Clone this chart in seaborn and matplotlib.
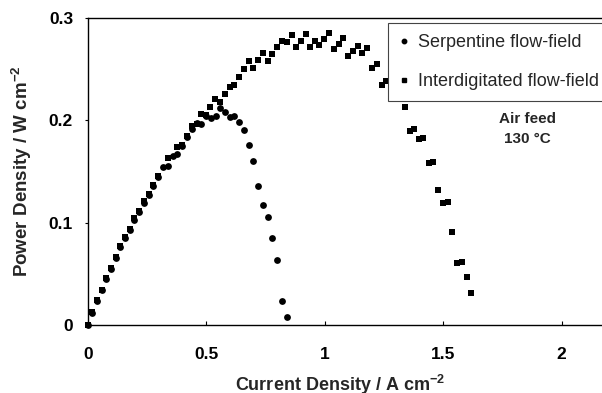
import numpy as np
import pandas as pd
import matplotlib
matplotlib.use("Agg")
import matplotlib.pyplot as plt
import seaborn as sns
from matplotlib.lines import Line2D

# ---- data ----
serp_x = [0.0, 0.017, 0.038, 0.059, 0.077, 0.097, 0.118, 0.138, 0.157, 0.177,
          0.197, 0.216, 0.238, 0.257, 0.277, 0.298, 0.316, 0.338, 0.359, 0.378,
          0.397, 0.418, 0.439, 0.46, 0.478, 0.499, 0.52, 0.54, 0.558, 0.579,
          0.60, 0.617, 0.64, 0.66, 0.68, 0.699, 0.72, 0.738, 0.76, 0.779,
          0.80, 0.821, 0.841]
serp_y = [0.0, 0.012, 0.0235, 0.034, 0.045, 0.055, 0.065, 0.076, 0.085, 0.093,
          0.103, 0.110, 0.1195, 0.127, 0.136, 0.145, 0.154, 0.1555, 0.165, 0.167,
          0.175, 0.184, 0.1915, 0.197, 0.196, 0.204, 0.2025, 0.204, 0.212, 0.208,
          0.203, 0.204, 0.198, 0.1905, 0.176, 0.1605, 0.136, 0.117, 0.106, 0.085,
          0.0635, 0.0237, 0.0075]

inter_x = [0.0, 0.017, 0.038, 0.059, 0.077, 0.097, 0.118, 0.138, 0.157, 0.177,
           0.197, 0.216, 0.238, 0.257, 0.277, 0.298, 0.34, 0.378, 0.397, 0.418,
           0.439, 0.46, 0.478, 0.499, 0.516, 0.537, 0.558, 0.579, 0.60, 0.619,
           0.64, 0.66, 0.68, 0.699, 0.72, 0.738, 0.76, 0.779, 0.80, 0.819,
           0.84, 0.861, 0.879, 0.899, 0.92, 0.938, 0.959, 0.977, 0.998, 1.018,
           1.039, 1.06, 1.078, 1.10, 1.118, 1.139, 1.159, 1.18, 1.198, 1.219,
           1.24, 1.259, 1.339, 1.36, 1.378, 1.399, 1.416, 1.441, 1.458, 1.479,
           1.50, 1.519, 1.538, 1.56, 1.578, 1.599, 1.619]
inter_y = [0.0, 0.0125, 0.024, 0.0345, 0.046, 0.056, 0.066, 0.0775, 0.086, 0.094,
           0.1045, 0.111, 0.121, 0.128, 0.137, 0.146, 0.163, 0.174, 0.176, 0.185,
           0.194, 0.1965, 0.206, 0.205, 0.213, 0.221, 0.218, 0.2255, 0.233, 0.235,
           0.242, 0.25, 0.2575, 0.251, 0.2585, 0.2655, 0.2575, 0.2645, 0.2715, 0.278,
           0.2765, 0.283, 0.272, 0.278, 0.2845, 0.272, 0.2775, 0.2735, 0.2795, 0.285,
           0.2695, 0.2745, 0.280, 0.263, 0.268, 0.273, 0.2655, 0.2705, 0.251, 0.2555,
           0.2345, 0.2385, 0.2135, 0.19, 0.1915, 0.1815, 0.183, 0.158, 0.1595, 0.132,
           0.119, 0.120, 0.091, 0.061, 0.062, 0.0466, 0.0316]

series_names = ["Serpentine flow-field", "Interdigitated flow-field"]
x_ticks = [0, 0.5, 1, 1.5, 2]
x_tick_labels = ["0", "0.5", "1", "1.5", "2"]
y_ticks = [0, 0.1, 0.2, 0.3]
y_tick_labels = ["0", "0.1", "0.2", "0.3"]
annotation = "Air feed\n130 \u00b0C"

df_serp = pd.DataFrame({"x": serp_x, "y": serp_y, "series": series_names[0]})
df_inter = pd.DataFrame({"x": inter_x, "y": inter_y, "series": series_names[1]})

sns.set_theme(style="white")
plt.rcParams["font.family"] = ["Liberation Sans", "DejaVu Sans"]
plt.rcParams["mathtext.fontset"] = "custom"
plt.rcParams["mathtext.rm"] = "Liberation Sans"
plt.rcParams["mathtext.bf"] = "Liberation Sans:bold"

W, H = 602, 393
X0, Y0, YT = 87.7, 325, 18
PX_PER_X = 237
XMAX = 2.2

fig = plt.figure(figsize=(W / 100, H / 100), dpi=100)
ax = fig.add_axes([X0 / W, (H - Y0) / H, XMAX * PX_PER_X / W, (Y0 - YT) / H])

sns.scatterplot(data=df_inter, x="x", y="y", marker="s", color="black",
                s=19, linewidth=0, ax=ax, legend=False, zorder=3, clip_on=False)
sns.scatterplot(data=df_serp, x="x", y="y", marker="o", color="black",
                s=24, linewidth=0, ax=ax, legend=False, zorder=4, clip_on=False)

ax.set_xlim(0, XMAX)
ax.set_ylim(0, 0.3)
ax.set_xticks(x_ticks)
ax.set_xticklabels(x_tick_labels)
ax.set_yticks(y_ticks)
ax.set_yticklabels(y_tick_labels)

for lab in ax.get_xticklabels() + ax.get_yticklabels():
    lab.set_fontweight("bold")
    lab.set_fontsize(12.5)

ax.tick_params(axis="x", direction="in", length=3, width=0.8, pad=16,
               bottom=True, colors="black")
ax.tick_params(axis="y", direction="out", length=2.5, width=0.8, pad=8,
               left=True, colors="black")

for side in ["left", "bottom", "top"]:
    ax.spines[side].set_visible(True)
    ax.spines[side].set_color("black")
    ax.spines[side].set_linewidth(1.0)
ax.spines["right"].set_visible(False)

ax.set_xlabel("Current Density / A cm$^{\\mathbf{-2}}$", fontsize=13,
              fontweight="bold")
ax.set_ylabel("Power Density / W cm$^{\\mathbf{-2}}$", fontsize=13.5,
              fontweight="bold")
ax.xaxis.set_label_coords((340 - X0) / (XMAX * PX_PER_X), -(373 - Y0) / (Y0 - YT))
ax.yaxis.set_label_coords(-(X0 - 34) / (XMAX * PX_PER_X), 0.5)

handles = [Line2D([], [], marker="o", color="black", linestyle="none", markersize=3.2),
           Line2D([], [], marker="s", color="black", linestyle="none", markersize=3.4)]
leg = ax.legend(handles, series_names, loc="upper left",
                bbox_to_anchor=((388 - X0) / (XMAX * PX_PER_X), (Y0 - 23) / (Y0 - YT)),
                fontsize=13, frameon=True, fancybox=False, borderaxespad=0,
                handlelength=0.6, handletextpad=0.45, labelspacing=1.25,
                borderpad=0.6)
leg.get_frame().set_edgecolor("#444444")
leg.get_frame().set_linewidth(0.8)
leg.get_frame().set_facecolor("white")
leg.get_frame().set_alpha(1)
leg.set_zorder(10)

ax.text(1.855, (Y0 - 129) / 1023.3, annotation, ha="center", va="center",
        fontsize=11, fontweight="bold", linespacing=1.6)

fig.savefig("out.png", dpi=100)
